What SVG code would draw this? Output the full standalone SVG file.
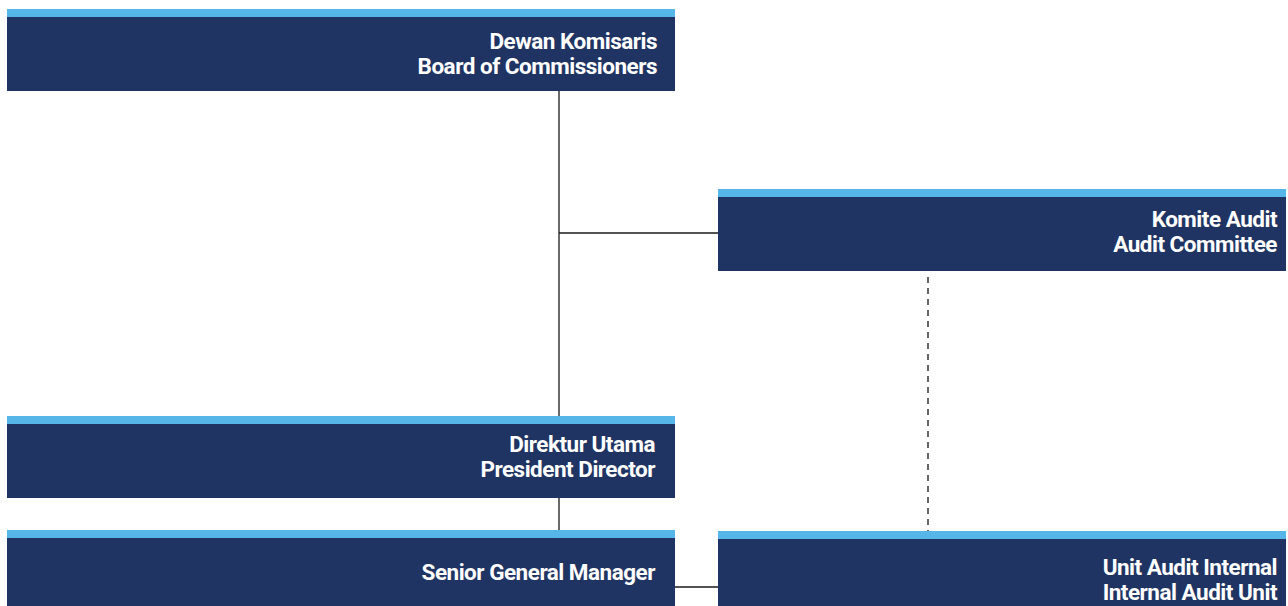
<svg xmlns="http://www.w3.org/2000/svg" width="1288" height="606" viewBox="0 0 1288 606">
  <style>
    .bar { fill: #56b6e8; }
    .body { fill: #1f3462; }
    .label { font-family: Roboto, "Liberation Sans", sans-serif; font-weight: 700; font-size: 22.5px; letter-spacing: -0.5px; fill: #ffffff; text-anchor: end; }
    .link { stroke: #1a1a1a; stroke-width: 1.3; fill: none; }
    .dashed { stroke: #333333; stroke-width: 1.5; stroke-dasharray: 6 5; fill: none; }
  </style>
  <rect width="1288" height="606" fill="#ffffff"/>

  <g id="connectors">
    <line class="link" x1="559" y1="91" x2="559" y2="416"/>
    <line class="link" x1="559" y1="233" x2="718" y2="233"/>
    <line class="link" x1="559" y1="498" x2="559" y2="530"/>
    <line class="link" x1="675" y1="587" x2="718" y2="587"/>
    <line class="dashed" x1="928" y1="277" x2="928" y2="531"/>
  </g>

  <g id="board-of-commissioners">
    <rect class="bar" x="7" y="9" width="668" height="8"/>
    <rect class="body" x="7" y="17" width="668" height="74"/>
    <text class="label" x="657" y="49">Dewan Komisaris</text>
    <text class="label" x="657" y="74">Board of Commissioners</text>
  </g>

  <g id="audit-committee">
    <rect class="bar" x="718" y="189" width="568" height="8"/>
    <rect class="body" x="718" y="197" width="568" height="74"/>
    <text class="label" x="1277" y="227">Komite Audit</text>
    <text class="label" x="1277" y="252">Audit Committee</text>
  </g>

  <g id="president-director">
    <rect class="bar" x="7" y="416" width="668" height="8"/>
    <rect class="body" x="7" y="424" width="668" height="74"/>
    <text class="label" x="655" y="452">Direktur Utama</text>
    <text class="label" x="655" y="477">President Director</text>
  </g>

  <g id="senior-general-manager">
    <rect class="bar" x="7" y="530" width="668" height="8"/>
    <rect class="body" x="7" y="538" width="668" height="68"/>
    <text class="label" x="655" y="580">Senior General Manager</text>
  </g>

  <g id="internal-audit-unit">
    <rect class="bar" x="718" y="531" width="568" height="8"/>
    <rect class="body" x="718" y="539" width="568" height="67"/>
    <text class="label" x="1277" y="575">Unit Audit Internal</text>
    <text class="label" x="1277" y="600">Internal Audit Unit</text>
  </g>
</svg>
